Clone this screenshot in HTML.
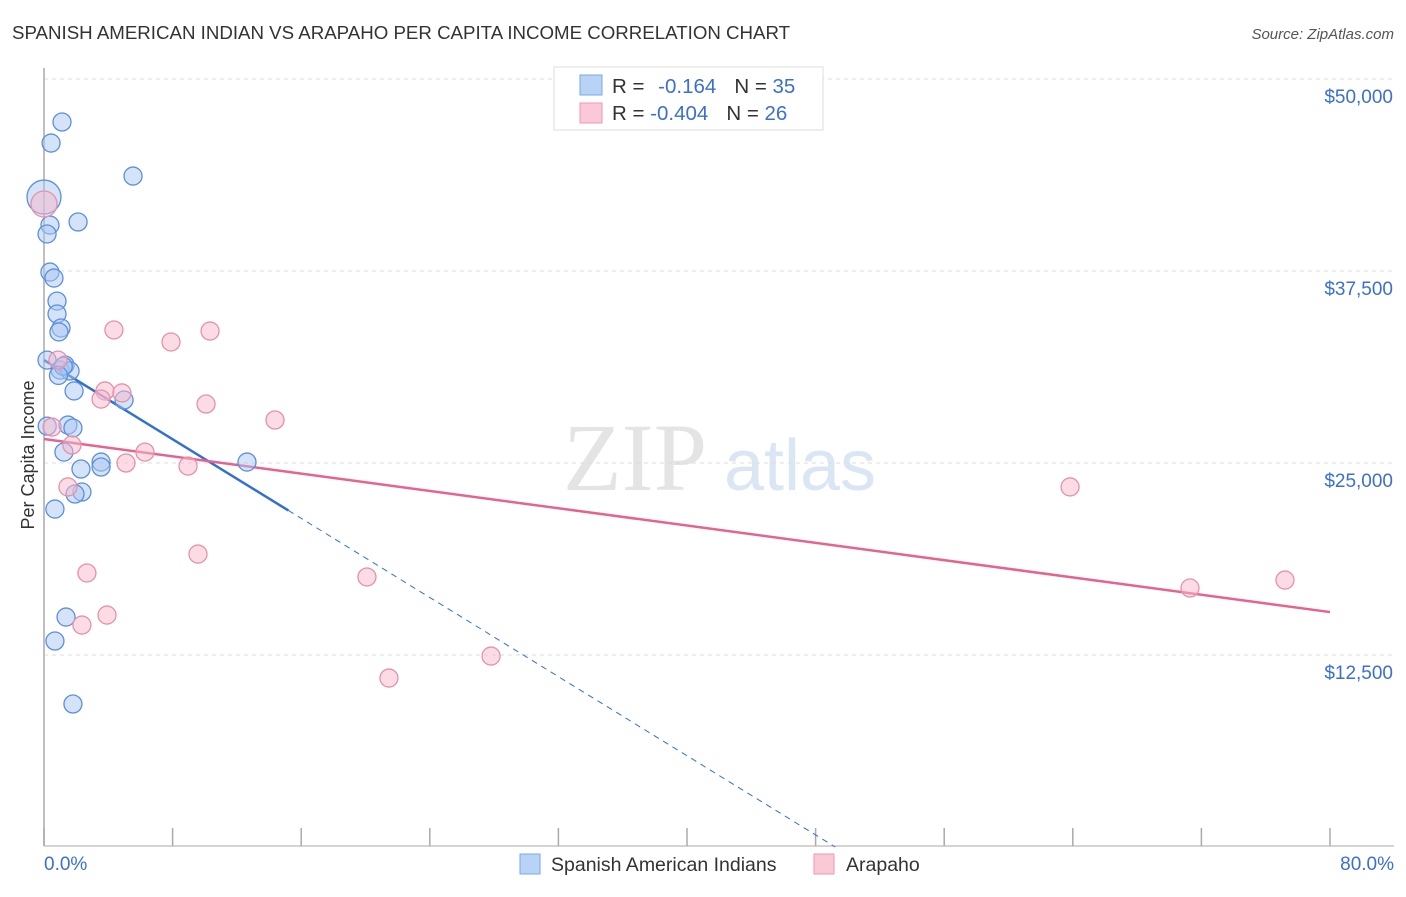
<!DOCTYPE html>
<html><head><meta charset="utf-8"><style>
body{margin:0;background:#fff;font-family:"Liberation Sans",sans-serif;}
svg text{font-family:"Liberation Sans",sans-serif;}
</style></head><body>
<svg id="chart" width="1406" height="892" xmlns="http://www.w3.org/2000/svg">
<text x="12" y="39" font-size="18.7" fill="#333">SPANISH AMERICAN INDIAN VS ARAPAHO PER CAPITA INCOME CORRELATION CHART</text>
<text x="1394" y="39" font-size="15" fill="#555" font-style="italic" text-anchor="end">Source: ZipAtlas.com</text>
<text x="0" y="0" font-size="18" fill="#333" text-anchor="middle" transform="translate(34,455) rotate(-90)">Per Capita Income</text>
<g>
<text x="635" y="490" font-size="96" fill="#e4e4e4" text-anchor="middle" style="font-family:'Liberation Serif',serif">ZIP</text>
<text x="800" y="490" font-size="72" fill="#dbe6f5" text-anchor="middle">atlas</text>
</g>
<g id="grid"></g>
<g id="axes"></g>
<g id="lines"></g>
<g id="points"></g>
<g>
<rect x="554" y="67" width="269" height="63" fill="#fff" stroke="#ddd"/>
<rect x="580" y="75" width="22" height="20" fill="#b8d3f5" stroke="#7aa7e6"/>
<rect x="580" y="103" width="22" height="20" fill="#fac8d7" stroke="#ef9ab5"/>
<text x="612" y="93" font-size="20.5" fill="#333">R = <tspan fill="#3a6fd8" dx="8">-0.164</tspan><tspan dx="18" fill="#333">N = </tspan><tspan fill="#3a6fd8">35</tspan></text>
<text x="612" y="120" font-size="20.5" fill="#333">R = <tspan fill="#3a6fd8">-0.404</tspan><tspan dx="18" fill="#333">N = </tspan><tspan fill="#3a6fd8">26</tspan></text>
</g>
<g>
<rect x="520" y="854" width="20" height="20" fill="#b8d3f5" stroke="#7aa7e6"/>
<text x="551" y="871" font-size="19.5" fill="#333">Spanish American Indians</text>
<rect x="814" y="854" width="20" height="20" fill="#fac8d7" stroke="#ef9ab5"/>
<text x="846" y="871" font-size="19.5" fill="#333">Arapaho</text>
</g>
</svg>
<script>
const yTicks=[12500,25000,37500,50000];
const yTickLabels=["$12,500","$25,000","$37,500","$50,000"];
const xTicks=[0,8,16,24,32,40,48,56,64,72,80];
const blueX=[1.12,0.44,5.54,0,2.12,0.37,0.19,0.37,0.62,0.81,0.81,1.06,0.93,0.19,1.31,1.0,1.62,1.87,4.98,1.49,1.80,1.24,3.55,3.55,12.63,2.30,2.36,1.93,0.68,1.37,0.68,1.80,0.2,1.2,0.9];
const blueY=[47200,45830,43680,42315,40690,40490,39910,37430,37040,35540,34700,33790,33530,31700,31380,31050,30990,29690,29100,27470,27280,25710,25060,24740,25060,24610,23110,22980,22000,14970,13410,9310,27400,31300,30700];
const pinkX=[0,4.35,7.90,10.33,0.87,3.79,3.55,4.85,10.08,14.37,0.5,1.74,6.28,5.10,8.96,1.49,63.83,9.58,2.67,20.09,71.29,77.20,3.92,2.36,27.81,21.46];
const pinkY=[41860,33660,32880,33590,31700,29690,29160,29560,28840,27800,27340,26170,25710,25000,24800,23440,23440,19070,17840,17580,16860,17380,15100,14450,12430,11000];
const blueTrend=[31700,-644];
const pinkTrend=[26560,-140.8];
const NS="http://www.w3.org/2000/svg";
const X0=44,X1=1330,Y0=847;
const sx=v=>X0+(X1-X0)*v/80;
const sy=v=>Y0-v*192/12500;
function mk(tag,attrs,parent){const e=document.createElementNS(NS,tag);for(const k in attrs)e.setAttribute(k,attrs[k]);document.getElementById(parent).appendChild(e);return e;}
yTicks.forEach((t,i)=>{
 const l=mk('line',{x1:X0,x2:1394,y1:sy(t),y2:sy(t),stroke:'#ddd','stroke-dasharray':'4,4'},'grid');
 
 
 const tx=mk('text',{x:1393,y:sy(t)+24,'font-size':19,fill:'#3a6fd8','text-anchor':'end'},'axes');
 tx.textContent=yTickLabels[i];
 
 
});
const ax=mk('line',{x1:X0,x2:X0,y1:68,y2:846,stroke:'#aaa','stroke-width':1.5},'axes');


const bx=mk('line',{x1:X0,x2:1394,y1:846,y2:846,stroke:'#aaa','stroke-width':1},'axes');


xTicks.forEach(t=>{
 const l=mk('line',{x1:sx(t),x2:sx(t),y1:828,y2:846,stroke:'#aaa','stroke-width':1.5},'axes');
 
 
});
const xl0=mk('text',{x:44,y:870,'font-size':19,fill:'#3a6fd8'},'axes');xl0.textContent='0.0%';


const xl1=mk('text',{x:1394,y:870,'font-size':19,fill:'#3a6fd8','text-anchor':'end'},'axes');xl1.textContent='80.0%';


function dot(x,y,r,fill,stroke,name){const c=mk('circle',{cx:sx(x),cy:sy(y),r:r,fill:fill,'fill-opacity':0.5,stroke:stroke,'stroke-width':1.3},'points');
 
 }
blueX.forEach((x,i)=>dot(x,blueY[i],i===3?17:9,'#a9c8f0','#5b8fe0','point-spanish'));
pinkX.forEach((x,i)=>dot(x,pinkY[i],i===0?13:9,'#f7b9cc','#e890ab','point-arapaho'));
const bEnd=15.2, bZero=-blueTrend[0]/blueTrend[1];
const b1=mk('line',{x1:sx(0),y1:sy(blueTrend[0]),x2:sx(bEnd),y2:sy(blueTrend[0]+blueTrend[1]*bEnd),stroke:'#2f6fd6','stroke-width':2.5},'lines');


const b2=mk('line',{x1:sx(bEnd),y1:sy(blueTrend[0]+blueTrend[1]*bEnd),x2:sx(bZero),y2:sy(0),stroke:'#2f6fd6','stroke-width':1,'stroke-dasharray':'6,5'},'lines');


const p1=mk('line',{x1:sx(0),y1:sy(pinkTrend[0]),x2:sx(80),y2:sy(pinkTrend[0]+pinkTrend[1]*80),stroke:'#e8628e','stroke-width':2.5},'lines');


</script>
</body></html>
